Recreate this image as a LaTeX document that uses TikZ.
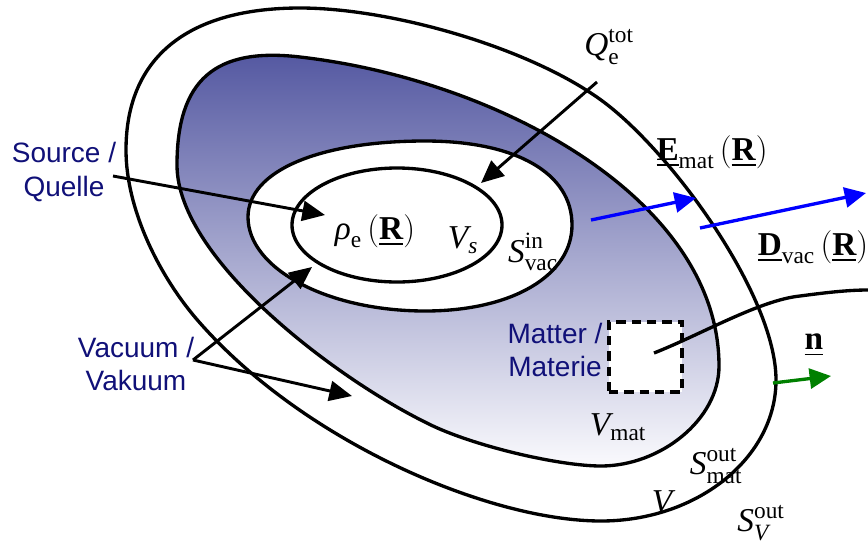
\documentclass[tikz,border=0pt]{standalone}
\usepackage{fontspec}
\usepackage{amsmath}
\setmainfont{Liberation Serif}
\newfontfamily\sanslab{Liberation Sans}
\usetikzlibrary{arrows.meta}
\definecolor{navy}{RGB}{16,16,120}
\definecolor{blobtop}{RGB}{82,86,160}
\definecolor{blobbot}{RGB}{250,250,253}
\definecolor{arrblue}{RGB}{0,0,255}
\definecolor{arrgreen}{RGB}{0,128,0}
\begin{document}
\begin{tikzpicture}[x=0.75pt,y=-0.75pt,
  curve/.style={line width=2.5pt,line join=round},
  arr/.style={line width=2.2pt,-{Triangle[length=17pt,width=15pt]}},
  bluearr/.style={draw=arrblue,line width=2.5pt,-{Triangle[length=16pt,width=15pt]}},
  greenarr/.style={draw=arrgreen,line width=2.5pt,-{Triangle[length=16pt,width=15pt]}},
  lab/.style={font=\fontsize{25}{29}\selectfont,inner sep=0pt},
  sans/.style={font=\sanslab\fontsize{21}{25}\selectfont,text=navy,align=center,inner sep=0pt},
  dashbox/.style={draw,fill=white,line width=2.7pt,dash pattern=on 7pt off 4.5pt,minimum width=54.75pt,minimum height=52.5pt,inner sep=0pt}]
\useasboundingbox (0,0) rectangle (868,547);
% outer surface S_V^out
\draw[curve] (300,8) .. controls (390,8) and (528,47) .. (601,100)
  .. controls (670,150) and (776,295) .. (776,380)
  .. controls (776,458) and (697,521) .. (601,521)
  .. controls (490,521) and (306,443) .. (200,323)
  .. controls (160,278) and (126,210) .. (126,150)
  .. controls (126,58) and (187,8) .. (300,8) -- cycle;
% matter volume
\path[curve,draw=black,top color=blobtop,bottom color=blobbot]
  (300,57) .. controls (500,80) and (719,200) .. (719,366)
  .. controls (719,420) and (660,466) .. (601,466)
  .. controls (560,466) and (478,447) .. (433,426)
  .. controls (340,382) and (177,260) .. (177,165)
  .. controls (177,80) and (215,47) .. (300,57) -- cycle;
% vacuum surface S_vac^in
\draw[curve,fill=white] (425,141) .. controls (516,141) and (572,173) .. (572,225)
  .. controls (572,275) and (513,311) .. (425,311)
  .. controls (328,311) and (248,269) .. (248,217)
  .. controls (248,171) and (319,141) .. (425,141) -- cycle;
% source volume
\draw[curve,fill=white] (397,225) ellipse [x radius=105, y radius=57];
% matter element
\node[dashbox] (box) at (645.5,357) {};
\coordinate (mstart) at (654,353);
\coordinate (mend) at (868,290);
\draw[curve] (mstart) .. controls (700,335) and (760,300) .. (800,296)
  .. controls (830,292) and (850,290) .. (mend);
% labels
\node[sans] (src) at (64,172) {Source /\\Quelle};
\node[sans] (vac) at (136,364) {Vacuum /\\Vakuum};
\node[sans] (mat) at (555,350) {Matter /\\Materie};
\node[lab] (Q) at (609,47) {$\textit{Q}_{\text{e}}^{\text{tot}}$};
\node[lab] (rho) at (375,231) {$\textit{ρ}_{\text{e}}\,(\underline{\textbf{R}})$};
\node[lab] (Vs) at (463,240) {$\textit{V}_{\textit{s}}$};
\node[lab] (Svac) at (533,252) {$\textit{S}_{\text{vac}}^{\text{in}}$};
\node[lab] (E) at (712,152) {$\underline{\textbf{E}}_{\text{mat}}\,(\underline{\textbf{R}})$};
\node[lab] (D) at (813,247) {$\underline{\textbf{D}}_{\text{vac}}\,(\underline{\textbf{R}})$};
\node[lab] (Vmat) at (618,427) {$\textit{V}_{\text{mat}}$};
\node[lab] (Smat) at (716,466) {$\textit{S}_{\text{mat}}^{\text{out}}$};
\node[lab] (V) at (662,502) {$\textit{V}$};
\node[lab] (SV) at (761,523) {$\textit{S}_{\textit{V}}^{\text{out}}$};
\node[lab] (n) at (814,345) {$\underline{\textbf{n}}$};
% arrows
\coordinate (qs) at (597,82);
\coordinate (qt) at (481,183);
\draw[arr] (qs) -- (qt);
\coordinate (ss) at (113,176);
\coordinate (st) at (325,215);
\draw[arr] (ss) -- (st);
\coordinate (vs) at (193,360);
\coordinate (vt1) at (312,267);
\coordinate (vt2) at (352,396);
\draw[arr] (vs) -- (vt1);
\draw[arr] (vs) -- (vt2);
\coordinate (es) at (591,220);
\coordinate (et) at (696,198);
\draw[bluearr] (es) -- (et);
\coordinate (ds) at (700,228);
\coordinate (dt) at (866,193);
\draw[bluearr] (ds) -- (dt);
\coordinate (ns) at (773,383);
\coordinate (nt) at (831,376);
\draw[greenarr] (ns) -- (nt);
\end{tikzpicture}
\end{document}
